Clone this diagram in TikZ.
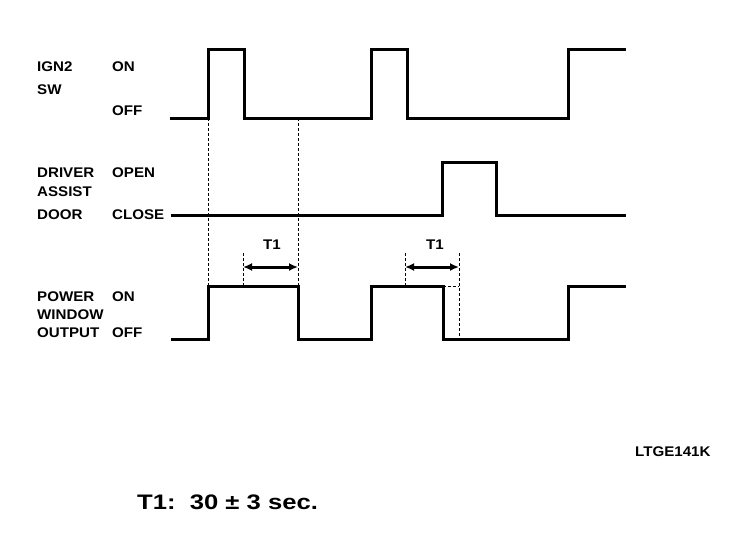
\documentclass[tikz,border=0pt]{standalone}
\usepackage{fontspec}
\setmainfont{Liberation Sans}
\newfontfamily\widesans[FakeStretch=1.08]{Liberation Sans}
\newfontfamily\widernote[FakeStretch=1.22]{Liberation Sans}
\usetikzlibrary{arrows.meta}
\begin{document}
\begin{tikzpicture}[x=1pt,y=-1pt,
  wave/.style={line width=3pt, line join=miter},
  guide/.style={line width=0.8pt, dash pattern=on 2.5pt off 2.5pt},
  dim/.style={line width=3pt, {Latex[length=9pt,width=8pt]}-{Latex[length=9pt,width=8pt]}},
  lbl/.style={font=\widesans\bfseries\fontsize{14}{15}\selectfont, anchor=west, inner sep=0pt},
  tlbl/.style={font=\widesans\bfseries\fontsize{14}{15}\selectfont, inner sep=0pt}]
\useasboundingbox (0,0) rectangle (752,538);
% signal labels
\node[lbl] (ign)  at (37,67)  {IGN2};
\node[lbl] (sw)   at (37,90)  {SW};
\node[lbl] (ion)  at (112,67) {ON};
\node[lbl] (ioff) at (112,111) {OFF};
\node[lbl] (drv)  at (37,173) {DRIVER};
\node[lbl] (ass)  at (37,192) {ASSIST};
\node[lbl] (door) at (37,215) {DOOR};
\node[lbl] (open) at (112,173) {OPEN};
\node[lbl] (close) at (112,215) {CLOSE};
\node[lbl] (pow)  at (37,297) {POWER};
\node[lbl] (win)  at (37,315) {WINDOW};
\node[lbl] (out)  at (37,333) {OUTPUT};
\node[lbl] (pon)  at (112,297) {ON};
\node[lbl] (poff) at (112,333) {OFF};
% waveforms
\draw[wave] (170,118) -| (208,49) -| (244,118) -| (371,49) -| (407,118) -| (568,49) -- (626,49);
\draw[wave] (171,215) -| (442,162) -| (496,215) -- (626,215);
\draw[wave] (171,339) -| (208,286) -| (298,339) -| (371,286) -| (443,339) -| (568,286) -- (626,286);
% guides
\draw[guide] (208,118) -- (208,286);
\draw[guide] (298,118) -- (298,286);
\draw[guide] (243,253) -- (243,286);
\draw[guide] (405,253) -- (405,286);
\draw[guide] (459,253) -- (459,339);
\draw[guide] (443,286) -- (459,286);
% T1 dimensions
\coordinate (a1) at (243,267);
\coordinate (b1) at (298,267);
\coordinate (a2) at (405,267);
\coordinate (b2) at (459,267);
\draw[dim] (a1) -- (b1);
\draw[dim] (a2) -- (b2);
\node[tlbl] (t1a) at (272,245) {T1};
\node[tlbl] (t1b) at (435,245) {T1};
% captions
\node[lbl] (code) at (635,452) {LTGE141K};
\node[anchor=west, inner sep=0pt, font=\widernote\bfseries\fontsize{21}{23}\selectfont] (note) at (137,502) {T1:\ \ 30 ± 3 sec.};
\end{tikzpicture}
\end{document}
